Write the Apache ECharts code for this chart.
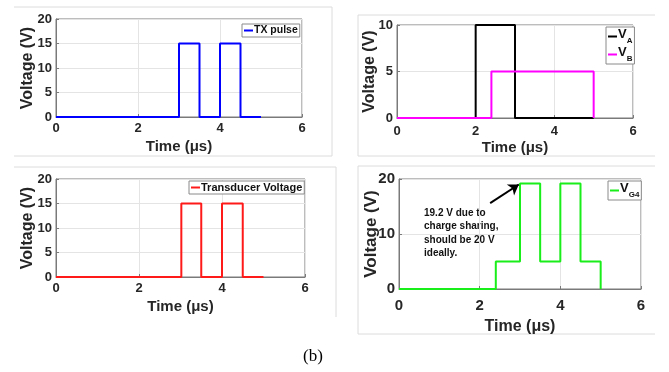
<!DOCTYPE html>
<html><head><meta charset="utf-8">
<script src="https://cdn.jsdelivr.net/npm/echarts@6/dist/echarts.min.js"></script>
<style>html,body{margin:0;padding:0;background:#fff}#c{width:669px;height:372px}</style>
</head><body><div id="c"></div>
<script>
// ---- data ----
const txTime = [0, 3, 3, 3.5, 3.5, 4, 4, 4.5, 4.5, 5];
const txVolt = [0, 0, 15, 15, 0, 0, 15, 15, 0, 0];
const vaTime = [0, 2, 2, 3, 3, 5];
const vaVolt = [0, 0, 10, 10, 0, 0];
const vbTime = [0, 2.4, 2.4, 5, 5];
const vbVolt = [0, 0, 5, 5, 0];
const trTime = [0, 3.02, 3.02, 3.5, 3.5, 4, 4, 4.5, 4.5, 5];
const trVolt = [0, 0, 15, 15, 0, 0, 15, 15, 0, 0];
const g4Time = [0, 2.4, 2.4, 3, 3, 3.5, 3.5, 4, 4, 4.5, 4.5, 5, 5];
const g4Volt = [0, 0, 5, 5, 19.2, 19.2, 5, 5, 19.2, 19.2, 5, 5, 0];
const xTicks = [0, 2, 4, 6];
const annotText = ['19.2 V due to', 'charge sharing,', 'should be 20 V', 'ideally.'];
const arrowFrom = [2.26, 15.6];
const arrowTo = [2.97, 19.0];

const pairs = (t, v) => t.map((x, i) => [x, v[i]]);
const TXT = '#262626';
const AX = '#7a7a7a';
const FONT = 'Liberation Sans, Arial, sans-serif';

function xAx(gi, nameGap, labelMargin, fs, nfs) {
  return {
    type: 'value', gridIndex: gi, min: 0, max: 6, interval: 2,
    name: 'Time (μs)', nameLocation: 'middle', nameGap: nameGap,
    nameTextStyle: {fontFamily: FONT, fontWeight: 'bold', fontSize: nfs, color: TXT},
    axisLine: {show: true, onZero: false, lineStyle: {color: AX}},
    axisTick: {show: true, inside: true, length: 3, lineStyle: {color: AX}},
    axisLabel: {fontFamily: FONT, fontWeight: 'bold', fontSize: fs, color: TXT, margin: labelMargin},
    splitLine: {show: true, lineStyle: {color: '#e4e4e4', width: 1}}
  };
}
function yAx(gi, max, interval, nameGap, fs, nfs) {
  return {
    type: 'value', gridIndex: gi, min: 0, max: max, interval: interval,
    name: 'Voltage (V)', nameLocation: 'middle', nameGap: nameGap, nameMoveOverlap: false,
    nameTextStyle: {fontFamily: FONT, fontWeight: 'bold', fontSize: nfs, color: TXT},
    axisLine: {show: true, lineStyle: {color: AX}},
    axisTick: {show: true, inside: true, length: 3, lineStyle: {color: AX}},
    axisLabel: {fontFamily: FONT, fontWeight: 'bold', fontSize: fs, color: TXT, margin: 4},
    splitLine: {show: true, lineStyle: {color: '#e4e4e4', width: 1}}
  };
}
function ser(name, gi, t, v, color) {
  return {
    name: name, type: 'line', xAxisIndex: gi, yAxisIndex: gi,
    data: pairs(t, v), showSymbol: false, symbol: 'none', animation: false,
    lineStyle: {color: color, width: 2}, itemStyle: {color: color}
  };
}
function leg(names, left, top, orient, formatter, rich, fs, itemGap) {
  return {
    data: names, left: left, top: top, orient: orient || 'horizontal',
    backgroundColor: '#fff', borderColor: '#8a8a8a', borderWidth: 1, borderRadius: 0,
    padding: [1, 2, 1, 2], itemGap: itemGap || 2, itemWidth: 9, itemHeight: 2, icon: 'rect',
    selectedMode: false,
    formatter: formatter,
    textStyle: {fontFamily: FONT, fontWeight: 'bold', fontSize: fs, color: '#111', padding: [0, 0, 0, -4], rich: rich}
  };
}
const subRich = {
  v: {fontFamily: FONT, fontWeight: 'bold', fontSize: 13, color: '#111', lineHeight: 17, verticalAlign: 'top'},
  s: {fontFamily: FONT, fontWeight: 'bold', fontSize: 8, color: '#111', lineHeight: 17, verticalAlign: 'bottom', padding: [8, 0, 0, 0]}
};
const subFmt = n => '{v|V}{s|' + n.slice(1) + '}';

const frame = '#dcdcdc';
const L = (x1, y1, x2, y2) => ({type: 'line', shape: {x1, y1, x2, y2}, style: {stroke: frame, lineWidth: 1}, silent: true});

const chart = echarts.init(document.getElementById('c'), null, {renderer: 'canvas'});
chart.setOption({
  animation: false,
  backgroundColor: '#fff',
  grid: [
    {left: 56, top: 19, width: 246, height: 98, show: true, borderColor: AX, borderWidth: 1, backgroundColor: 'transparent'},
    {left: 397, top: 25, width: 236, height: 93, show: true, borderColor: AX, borderWidth: 1, backgroundColor: 'transparent'},
    {left: 56, top: 179, width: 249, height: 98, show: true, borderColor: AX, borderWidth: 1, backgroundColor: 'transparent'},
    {left: 399, top: 179, width: 242, height: 110, show: true, borderColor: AX, borderWidth: 1, backgroundColor: 'transparent'}
  ],
  xAxis: [xAx(0, 22, 5, 13, 15), xAx(1, 22, 7, 13, 15), xAx(2, 22, 5, 13, 15), xAx(3, 30, 9, 15, 16)],
  yAxis: [yAx(0, 20, 5, 20, 13, 16), yAx(1, 10, 5, 19, 13, 16), yAx(2, 20, 5, 20, 13, 16), yAx(3, 20, 10, 19, 15, 17)],
  legend: [
    leg(['TX pulse'], 242, 24, 'horizontal', null, null, 10.5),
    leg(['VA', 'VB'], 606, 27, 'vertical', subFmt, subRich, 13, 1),
    leg(['Transducer Voltage'], 189, 181, 'horizontal', null, null, 11),
    leg(['VG4'], 608, 181, 'vertical', subFmt, subRich, 13)
  ],
  series: [
    ser('TX pulse', 0, txTime, txVolt, '#0000ff'),
    ser('VA', 1, vaTime, vaVolt, '#000000'),
    ser('VB', 1, vbTime, vbVolt, '#ff00ff'),
    ser('Transducer Voltage', 2, trTime, trVolt, '#ff1a1a'),
    Object.assign(ser('VG4', 3, g4Time, g4Volt, '#1aee1a'), {
      markLine: {
        silent: true, symbol: ['none', 'arrow'], symbolSize: 10, label: {show: false},
        lineStyle: {color: '#000', width: 2, type: 'solid'},
        data: [[{coord: arrowFrom}, {coord: arrowTo}]]
      }
    })
  ],
  graphic: [
    L(14, 7, 332, 7), L(332, 7, 332, 156), L(14, 156, 332, 156),
    L(358, 15, 655, 15), L(358, 15, 358, 156), L(358, 156, 655, 156),
    L(14, 167, 336, 167), L(336, 167, 336, 317),
    L(358, 166, 655, 166), L(358, 166, 358, 334), L(358, 334, 655, 334),
    {type: 'text', left: 424, top: 206, silent: true,
      style: {text: annotText.join('\n'), fill: '#111', font: 'bold 10px ' + FONT, lineHeight: 13.5}},
    {type: 'text', left: 303, top: 348, silent: true,
      style: {text: '(b)', fill: '#000', font: '17px "Liberation Serif", "Times New Roman", serif'}}
  ]
});
</script></body></html>
